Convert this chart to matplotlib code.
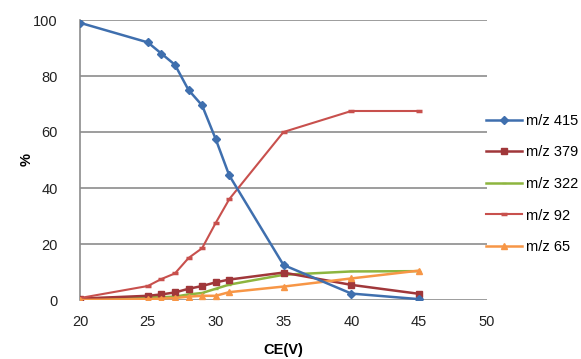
import matplotlib
matplotlib.use("Agg")
import matplotlib.pyplot as plt
from matplotlib import font_manager

ce = [20, 25, 26, 27, 28, 29, 30, 31, 35, 40, 45]
mz415 = [99, 92, 88, 84, 75, 69.5, 57.5, 44.5, 12.5, 2.3, 0.3]
mz379 = [0.5, 1.5, 2, 2.7, 4, 5, 6.3, 7.3, 9.8, 5.4, 2.2]
mz322 = [0.5, 1, 1, 1.2, 2, 2.5, 4, 5.5, 9, 10.2, 10.3]
mz92 = [0.7, 5, 7.5, 9.5, 15, 18.5, 27.5, 36, 60, 67.5, 67.5]
mz65 = [0, 0.3, 0.5, 0.7, 1.2, 1.5, 1.5, 2.8, 4.8, 7.7, 10.5]

labels = ["m/z 415", "m/z 379", "m/z 322", "m/z 92", "m/z 65"]
xticks = [20, 25, 30, 35, 40, 45, 50]
yticks = [0, 20, 40, 60, 80, 100]

names = {f.name for f in font_manager.fontManager.ttflist}
base = "Liberation Sans Narrow" if "Liberation Sans Narrow" in names else "Liberation Sans"
plt.rcParams['font.family'] = [base, 'DejaVu Sans']
fs = 12 if base == "Liberation Sans Narrow" else 10.5

fig = plt.figure(figsize=(5.81, 3.59), dpi=100)
ax = fig.add_axes([80 / 581, 59 / 359, 407 / 581, 280 / 359])

ax.plot(ce, mz415, color="#3F6FAE", lw=1.8, marker="D", ms=4.5, label=labels[0], zorder=5)
ax.plot(ce, mz379, color="#A0373A", lw=1.8, marker="s", ms=5, label=labels[1], zorder=4)
ax.plot(ce, mz322, color="#8DB53F", lw=1.8, marker="_", ms=3, label=labels[2], zorder=3)
ax.plot(ce, mz92, color="#C8504D", lw=1.5, marker="_", ms=5, mew=2.5, label=labels[3], zorder=4)
ax.plot(ce, mz65, color="#F79646", lw=1.8, marker="^", ms=5, label=labels[4], zorder=4)

ax.set_xlim(20, 50)
ax.set_ylim(0, 100)
ax.set_xticks(xticks)
ax.set_yticks(yticks)
ax.yaxis.grid(True, color="#8C8C8C", lw=1.2)
ax.set_axisbelow(True)
for s in ["top", "right", "bottom"]:
    ax.spines[s].set_visible(False)
ax.spines["left"].set_color("#8C8C8C")
ax.spines["left"].set_linewidth(1.2)
ax.tick_params(axis="both", length=0, labelsize=fs, colors="#222222")
ax.tick_params(axis="y", pad=16)
ax.tick_params(axis="x", pad=11)
ax.set_ylabel("%", fontsize=fs, fontweight="bold")
ax.yaxis.set_label_coords(-0.115, 0.5)
ax.set_xlabel("CE(V)", fontsize=fs, fontweight="bold", labelpad=10)

leg = fig.legend(loc="upper left", bbox_to_anchor=(486 / 581, 1 - 114 / 359),
                 frameon=False, fontsize=fs, handlelength=2.5, labelspacing=1.2,
                 handletextpad=0.25, borderaxespad=0, borderpad=0)

fig.savefig("out.png", dpi=100)
